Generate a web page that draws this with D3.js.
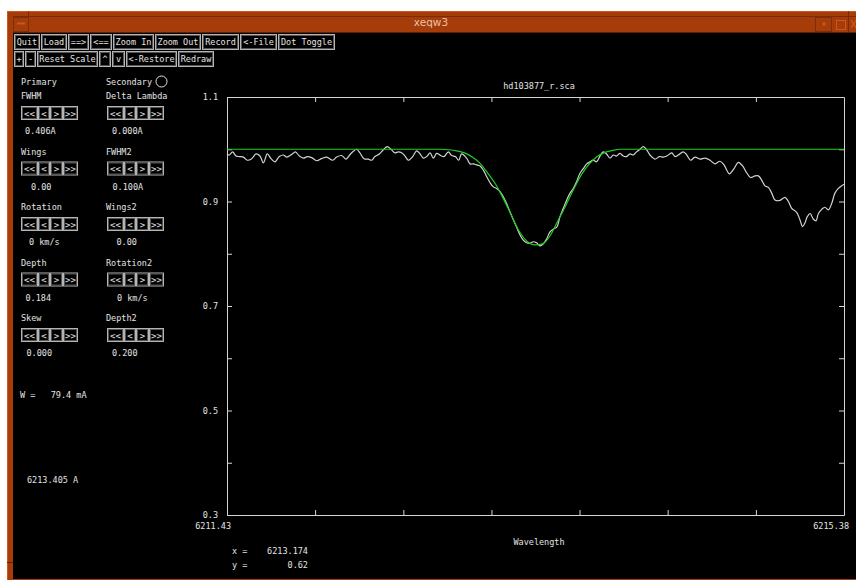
<!DOCTYPE html>
<html>
<head>
<meta charset="utf-8">
<script src="https://cdn.jsdelivr.net/npm/d3@7"></script>
<style>
  html, body { margin: 0; padding: 0; background: #ffffff; }
  svg { display: block; }
  text { font-family: "DejaVu Sans Mono", "Liberation Mono", monospace; font-size: 8.5px; fill: #e4e4e4; }
</style>
</head>
<body>
<svg id="win" width="856" height="580"></svg>
<script>
// Observed spectrum (wavelength in Angstrom, normalised flux)
const wavelength = [
  6211.430, 6211.445, 6211.466, 6211.488, 6211.513, 6211.535, 6211.560, 6211.588, 6211.616, 6211.641,
  6211.663, 6211.688, 6211.712, 6211.737, 6211.765, 6211.791, 6211.812, 6211.844, 6211.868, 6211.893,
  6211.919, 6211.945, 6211.972, 6212.004, 6212.036, 6212.068, 6212.107, 6212.132, 6212.164, 6212.192,
  6212.218, 6212.239, 6212.260, 6212.281, 6212.307, 6212.335, 6212.356, 6212.377, 6212.405, 6212.431,
  6212.456, 6212.480, 6212.505, 6212.527, 6212.550, 6212.570, 6212.591, 6212.619, 6212.644, 6212.666,
  6212.687, 6212.712, 6212.730, 6212.751, 6212.772, 6212.798, 6212.819, 6212.847, 6212.868, 6212.892,
  6212.913, 6212.932,
  6212.964, 6212.986, 6213.007, 6213.028, 6213.050, 6213.071, 6213.092, 6213.114, 6213.135, 6213.156,
  6213.178, 6213.199, 6213.220, 6213.242, 6213.263, 6213.284, 6213.306, 6213.327, 6213.348, 6213.370,
  6213.391, 6213.412, 6213.434, 6213.455, 6213.476, 6213.498, 6213.519, 6213.541, 6213.562, 6213.583,
  6213.605, 6213.626, 6213.647, 6213.668, 6213.690, 6213.711, 6213.733, 6213.754, 6213.775, 6213.796,
  6213.818, 6213.839, 6213.860, 6213.882, 6213.903, 6213.924, 6213.946, 6213.967, 6213.988, 6214.010,
  6214.031, 6214.052, 6214.074,
  6214.095, 6214.117, 6214.138, 6214.170, 6214.198, 6214.223, 6214.245, 6214.277, 6214.298, 6214.319,
  6214.351, 6214.373, 6214.398, 6214.426, 6214.458, 6214.490, 6214.522, 6214.554, 6214.586, 6214.612,
  6214.646, 6214.676, 6214.704, 6214.731, 6214.757, 6214.782, 6214.810, 6214.832, 6214.853, 6214.874,
  6214.896, 6214.917, 6214.938, 6214.970, 6215.002, 6215.024, 6215.045, 6215.077, 6215.098, 6215.115,
  6215.130, 6215.145, 6215.163, 6215.184, 6215.201, 6215.216, 6215.237, 6215.258, 6215.280, 6215.301,
  6215.322, 6215.344, 6215.365, 6215.380
];
const flux = [
  0.991, 0.989, 0.995, 0.987, 0.986, 0.985, 0.979, 0.982, 0.991, 0.987,
  0.974, 0.991, 0.982, 0.976, 0.986, 0.989, 0.985, 0.990, 0.995, 0.987,
  0.983, 0.986, 0.984, 0.978, 0.982, 0.985, 0.979, 0.985, 0.988, 0.981,
  0.990, 0.996, 1.000, 0.993, 0.982, 0.981, 0.979, 0.986, 0.991, 0.999,
  1.005, 1.000, 0.993, 0.995, 0.993, 0.987, 0.979, 0.986, 0.997, 0.991,
  0.983, 0.987, 0.993, 0.983, 0.992, 0.988, 0.986, 0.995, 0.988, 0.986,
  0.979, 0.991,
  0.983, 0.972, 0.972, 0.970, 0.968, 0.960, 0.948, 0.936, 0.928, 0.925,
  0.919, 0.909, 0.896, 0.880, 0.865, 0.851, 0.836, 0.826, 0.821, 0.820,
  0.823, 0.821, 0.815, 0.819, 0.828, 0.842, 0.847, 0.851, 0.871, 0.887,
  0.903, 0.916, 0.925, 0.938, 0.954, 0.963, 0.972, 0.976, 0.979, 0.976,
  0.987, 0.995, 0.991, 0.983, 0.989, 0.987, 0.992, 0.987, 0.986, 0.991,
  0.989, 0.995, 1.000,
  1.005, 0.999, 0.989, 0.981, 0.986, 0.985, 0.987, 0.993, 0.986, 0.989,
  0.995, 0.989, 0.979, 0.985, 0.981, 0.983, 0.979, 0.972, 0.977, 0.970,
  0.953, 0.963, 0.975, 0.968, 0.955, 0.946, 0.949, 0.949, 0.941, 0.930,
  0.927, 0.916, 0.903, 0.902, 0.908, 0.900, 0.887, 0.879, 0.865, 0.852,
  0.859, 0.871, 0.877, 0.866, 0.863, 0.877, 0.885, 0.889, 0.884, 0.896,
  0.916, 0.925, 0.930, 0.933
];

// Fitted line profile
const fitWavelength = [
  6211.430, 6212.800, 6212.850, 6212.900, 6212.950, 6213.000, 6213.050, 6213.100, 6213.150, 6213.200,
  6213.250, 6213.300, 6213.350, 6213.400, 6213.450, 6213.500, 6213.550, 6213.600, 6213.650, 6213.700,
  6213.750, 6213.800, 6213.850, 6213.900, 6213.950, 6214.000, 6215.380
];
const fitFlux = [
  1.000, 1.000, 0.999, 0.997, 0.993, 0.985, 0.973, 0.954, 0.933, 0.905,
  0.874, 0.843, 0.824, 0.817, 0.819, 0.835, 0.864, 0.893, 0.924, 0.952,
  0.972, 0.986, 0.994, 0.998, 1.000, 1.000, 1.000
];

// Axis ticks and labels
const yTickValues = [0.3, 0.4, 0.5, 0.6, 0.7, 0.8, 0.9, 1.0, 1.1];
const yTickLabels = ["0.3", "", "0.5", "", "0.7", "", "0.9", "", "1.1"];
const xDomain = [6211.43, 6215.38];
const xEndLabels = ["6211.43", "6215.38"];
const xTickValues = [6211.994, 6212.559, 6213.123, 6213.687, 6214.251, 6214.816];
const plotTitle = "hd103877_r.sca";
const xAxisTitle = "Wavelength";
const cursorX = "6213.174";
const cursorY = "0.62";

// Control panel content
const buttonRow1 = ["Quit", "Load", "==>", "<==", "Zoom In", "Zoom Out", "Record", "<-File", "Dot Toggle"];
const buttonRow2 = ["+", "-", "Reset Scale", "^", "v", "<-Restore", "Redraw"];
const primaryNames = ["FWHM", "Wings", "Rotation", "Depth", "Skew"];
const primaryValues = ["0.406A", "0.00", "0 km/s", "0.184", "0.000"];
const secondaryNames = ["Delta Lambda", "FWHM2", "Wings2", "Rotation2", "Depth2"];
const secondaryValues = ["0.000A", "0.100A", "0.00", "0 km/s", "0.200"];
const stepperLabels = ["<<", "<", ">", ">>"];
const equivalentWidth = "W =   79.4 mA";
const lineCentre = "6213.405 A";

const svg = d3.select("#win");

// ---- window frame ----
const frameOrange = "#a53c0a", frameLight = "#c9591e", frameDark = "#5e2004";
svg.append("rect").attr("x", 7).attr("y", 11).attr("width", 849).attr("height", 569).attr("fill", frameOrange);
svg.append("rect").attr("x", 13).attr("y", 33).attr("width", 843).attr("height", 546).attr("fill", "#000");
svg.append("line").attr("x1", 7).attr("x2", 856).attr("y1", 11.5).attr("y2", 11.5).attr("stroke", frameLight);
svg.append("line").attr("x1", 7.5).attr("x2", 7.5).attr("y1", 11).attr("y2", 580).attr("stroke", frameLight);
svg.append("line").attr("x1", 13).attr("x2", 856).attr("y1", 16.5).attr("y2", 16.5).attr("stroke", frameDark).attr("stroke-opacity", 0.6);
svg.append("line").attr("x1", 13).attr("x2", 856).attr("y1", 32.5).attr("y2", 32.5).attr("stroke", frameDark);
svg.append("line").attr("x1", 28.5).attr("x2", 28.5).attr("y1", 11).attr("y2", 17).attr("stroke", frameDark).attr("stroke-opacity", 0.6);
svg.append("line").attr("x1", 848.5).attr("x2", 848.5).attr("y1", 11).attr("y2", 33).attr("stroke", frameDark).attr("stroke-opacity", 0.6);
svg.append("line").attr("x1", 7).attr("x2", 13).attr("y1", 562.5).attr("y2", 562.5).attr("stroke", frameDark);
svg.append("rect").attr("x", 13).attr("y", 579).attr("width", 843).attr("height", 1).attr("fill", frameOrange);
// title-bar buttons
svg.append("rect").attr("x", 13.5).attr("y", 17.5).attr("width", 15).attr("height", 14).attr("fill", "none").attr("stroke", frameDark).attr("stroke-opacity", 0.5);
svg.append("rect").attr("x", 17).attr("y", 22.5).attr("width", 8).attr("height", 2).attr("fill", frameLight);
svg.append("rect").attr("x", 815.5).attr("y", 17.5).attr("width", 16).attr("height", 14).attr("fill", "none").attr("stroke", frameDark).attr("stroke-opacity", 0.5);
svg.append("rect").attr("x", 822.5).attr("y", 22.5).attr("width", 3).attr("height", 3).attr("fill", frameLight);
svg.append("rect").attr("x", 836.5).attr("y", 20.5).attr("width", 9).attr("height", 9).attr("fill", "none").attr("stroke", frameLight);
svg.append("path").attr("d", "M851,20 L856,28 M856,20 L851,28").attr("stroke", frameLight).attr("stroke-width", 1.2);
svg.append("text").attr("x", 431).attr("y", 26).attr("text-anchor", "middle").text("xeqw3")
  .style("fill", "#e9c2a4").style("font-family", "DejaVu Sans").style("font-size", "10.5px");

// ---- toolbar buttons ----
function buttonRow(labels, widths, x0, y0, h) {
  let x = x0;
  labels.forEach((lab, i) => {
    const w = widths[i];
    svg.append("rect").attr("x", x + 0.5).attr("y", y0 + 0.5).attr("width", w - 1).attr("height", h - 1)
      .attr("fill", "#000").attr("stroke", "#b4b4b4");
    svg.append("rect").attr("x", x + 1.5).attr("y", y0 + 1.5).attr("width", w - 3).attr("height", h - 3)
      .attr("fill", "none").attr("stroke", "#555");
    svg.append("text").attr("x", x + w / 2).attr("y", y0 + h / 2 + 3).attr("text-anchor", "middle").text(lab);
    x += w + 1;
  });
}
buttonRow(buttonRow1, [26, 26, 21, 22, 41, 46, 37, 37, 57], 14, 34, 16);
buttonRow(buttonRow2, [10, 11, 61, 12, 13, 51, 36], 14, 51, 16);

// ---- parameter panel ----
function stepper(x0, y0) {
  const widths = [17, 12, 13, 15];
  let x = x0;
  widths.forEach((w, i) => {
    svg.append("rect").attr("x", x + 0.5).attr("y", y0 + 0.5).attr("width", w - 1).attr("height", 13)
      .attr("fill", "#000").attr("stroke", "#b4b4b4");
    svg.append("rect").attr("x", x + 1.5).attr("y", y0 + 1.5).attr("width", w - 3).attr("height", 11)
      .attr("fill", "none").attr("stroke", "#555");
    svg.append("text").attr("x", x + w / 2).attr("y", y0 + 10.5).attr("text-anchor", "middle")
      .style("font-size", "9px").text(stepperLabels[i]);
    x += w;
  });
}
svg.append("text").attr("x", 21).attr("y", 84.5).text("Primary");
svg.append("text").attr("x", 106).attr("y", 84.5).text("Secondary");
svg.append("circle").attr("cx", 161.5).attr("cy", 81.5).attr("r", 5.5).attr("fill", "none").attr("stroke", "#e4e4e4");

const leftValueX = [25, 31, 29, 25.5, 26.5];
const rightValueX = [112, 112.5, 116.5, 117, 112];
primaryNames.forEach((name, i) => {
  const y = 96 + i * 55.5;
  svg.append("text").attr("x", 21).attr("y", y + 3).text(name);
  stepper(21, y + 10);
  svg.append("text").attr("x", leftValueX[i]).attr("y", y + 38).attr("xml:space", "preserve").text(primaryValues[i]);
});
secondaryNames.forEach((name, i) => {
  const y = 96 + i * 55.5;
  svg.append("text").attr("x", 106).attr("y", y + 3).text(name);
  stepper(107, y + 10);
  svg.append("text").attr("x", rightValueX[i]).attr("y", y + 38).attr("xml:space", "preserve").text(secondaryValues[i]);
});
svg.append("text").attr("x", 20).attr("y", 398).attr("xml:space", "preserve").text(equivalentWidth);
svg.append("text").attr("x", 27).attr("y", 483).text(lineCentre);

// ---- spectrum plot ----
const x = d3.scaleLinear().domain(xDomain).range([227, 844]);
const y = d3.scaleLinear().domain([0.3, 1.1]).range([515, 97]);
const axisColor = "#d4d4d4";

function styleAxis(g) {
  g.selectAll("path.domain").attr("stroke", axisColor);
  g.selectAll(".tick line").attr("stroke", axisColor);
  g.selectAll(".tick text").style("fill", "#e4e4e4").style("font-family", "DejaVu Sans Mono").style("font-size", "8.5px");
}

svg.append("g").attr("transform", "translate(227,0)")
  .call(d3.axisLeft(y).tickValues(yTickValues).tickFormat((d, i) => yTickLabels[i]).tickSize(-5).tickSizeOuter(0).tickPadding(9))
  .call(styleAxis);
svg.append("g").attr("transform", "translate(844,0)")
  .call(d3.axisRight(y).tickValues(yTickValues).tickFormat("").tickSize(-5).tickSizeOuter(0))
  .call(styleAxis);
svg.append("g").attr("transform", "translate(0,97)")
  .call(d3.axisTop(x).tickValues(xTickValues).tickFormat("").tickSize(-5).tickSizeOuter(0))
  .call(styleAxis);
svg.append("g").attr("transform", "translate(0,515)")
  .call(d3.axisBottom(x).tickValues(xTickValues).tickFormat("").tickSize(-5).tickSizeOuter(0))
  .call(styleAxis);

svg.append("text").attr("x", x(xDomain[0]) + 4).attr("y", 529).attr("text-anchor", "end").text(xEndLabels[0]);
svg.append("text").attr("x", x(xDomain[1]) + 5).attr("y", 529).attr("text-anchor", "end").text(xEndLabels[1]);
svg.append("text").attr("x", 539).attr("y", 89).attr("text-anchor", "middle").text(plotTitle);
svg.append("text").attr("x", 539).attr("y", 545).attr("text-anchor", "middle").text(xAxisTitle);
svg.append("text").attr("x", 232).attr("y", 554).text("x =");
svg.append("text").attr("x", 308).attr("y", 554).attr("text-anchor", "end").text(cursorX);
svg.append("text").attr("x", 232).attr("y", 568).text("y =");
svg.append("text").attr("x", 308).attr("y", 568).attr("text-anchor", "end").text(cursorY);

const plotG = svg.append("g");
plotG.append("path")
  .datum(wavelength.map((w, i) => [w, flux[i]]))
  .attr("fill", "none").attr("stroke", "#d2d2d2").attr("stroke-width", 1.2)
  .attr("d", d3.line().x(d => x(d[0])).y(d => y(d[1])).curve(d3.curveCatmullRom));
plotG.append("path")
  .datum(fitWavelength.map((w, i) => [w, fitFlux[i]]))
  .attr("fill", "none").attr("stroke", "#1fcf1f").attr("stroke-width", 1.2)
  .attr("d", d3.line().x(d => x(d[0])).y(d => y(d[1])).curve(d3.curveMonotoneX));
</script>
</body>
</html>
